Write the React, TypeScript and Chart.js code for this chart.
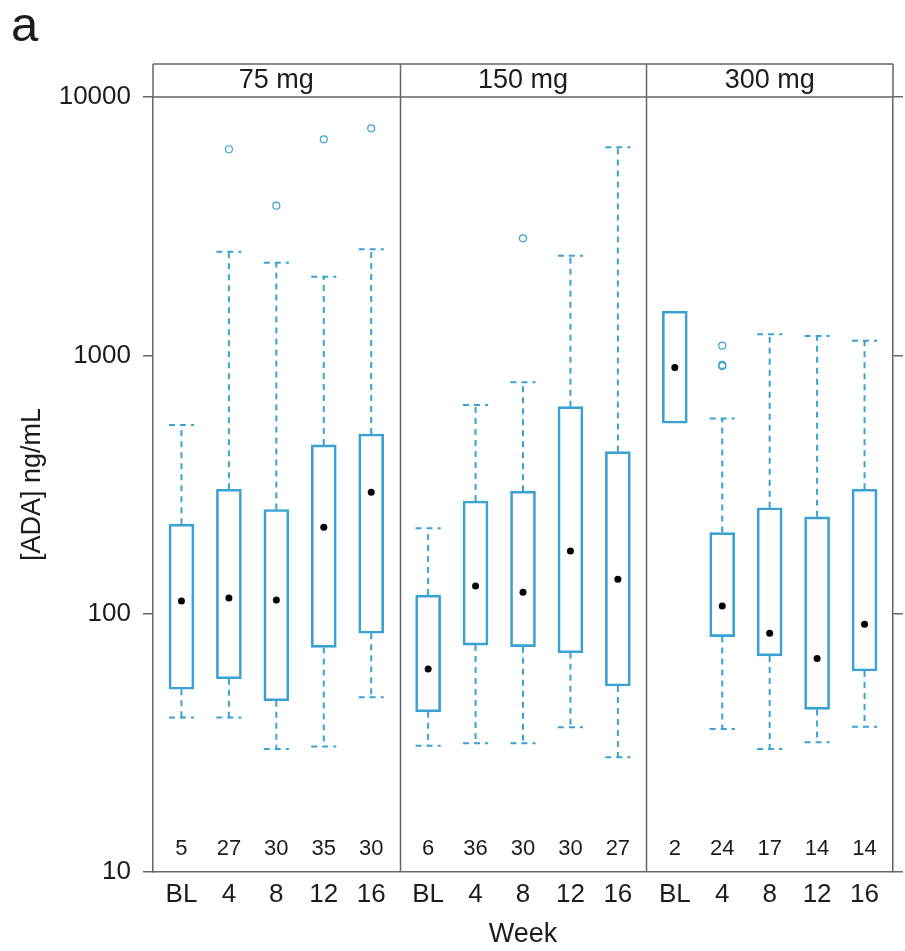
import React, { useEffect, useRef } from 'react';
import { Chart, registerables } from 'chart.js';

Chart.register(...registerables);

// ---- data ----
const doses = ['75 mg', '150 mg', '300 mg'];
const weeks = ['BL', '4', '8', '12', '16'];
const yTickValues = [10, 100, 1000, 10000];

// 15 groups: 3 doses x 5 weeks
const whiskerLow = [39.6, 39.6, 29.9, 30.6, 47.5, 30.8, 31.5, 31.5, 36.3, 27.8, null, 35.8, 29.9, 31.8, 36.5];
const lowerQuartile = [51, 56, 46, 74, 84, 41.7, 75.6, 74.5, 70.6, 52.5, 546, 81.5, 68.6, 42.6, 60];
const medianValues = [112, 115, 113, 216, 295, 61, 128, 121, 175, 136, 898, 107, 84, 67, 91];
const upperQuartile = [222, 303, 253, 450, 496, 118, 273, 298, 633, 424, 1484, 206, 257, 237, 303];
const whiskerHigh = [538, 2519, 2284, 2016, 2573, 214, 642, 786, 2432, 6387, null, 570, 1206, 1188, 1139];
const sampleSizes = [5, 27, 30, 35, 30, 6, 36, 30, 30, 27, 2, 24, 17, 14, 14];
const outlierGroup = [1, 2, 3, 4, 7, 11, 11, 11];
const outlierValues = [6277, 3796, 6857, 7566, 2838, 1090, 909, 918];

// ---- layout helpers ----
const PANEL_SPAN = 5.2;
const groupX = (g: number) => Math.floor(g / 5) * PANEL_SPAN + 0.6 + (g % 5);
const CAP_HALF = 0.265;
const BLUE = '#3aa2d2';
const FRAME = '#666666';
const TEXT = '#1c1c1c';
const FONT = "'Liberation Sans', Arial, Helvetica, sans-serif";

const panelPlugin = {
  id: 'panelPlugin',
  afterDraw(chart: any) {
    const { ctx, chartArea, scales } = chart;
    const xs = scales.x;
    const stripH = 33;
    const stripTop = chartArea.top - stripH;
    ctx.save();
    ctx.strokeStyle = FRAME;
    ctx.lineWidth = 1.5;
    ctx.beginPath();
    ctx.moveTo(chartArea.left, stripTop);
    ctx.lineTo(chartArea.right, stripTop);
    ctx.moveTo(chartArea.left, chartArea.top);
    ctx.lineTo(chartArea.right, chartArea.top);
    ctx.moveTo(chartArea.left, stripTop);
    ctx.lineTo(chartArea.left, chartArea.top);
    ctx.moveTo(chartArea.right, stripTop);
    ctx.lineTo(chartArea.right, chartArea.top);
    [PANEL_SPAN, PANEL_SPAN * 2].forEach((v) => {
      const px = Math.round(xs.getPixelForValue(v)) + 0.5;
      ctx.moveTo(px, stripTop);
      ctx.lineTo(px, chartArea.bottom);
    });
    ctx.stroke();

    ctx.fillStyle = TEXT;
    ctx.textAlign = 'center';
    ctx.textBaseline = 'alphabetic';
    ctx.font = `27px ${FONT}`;
    doses.forEach((d, i) => {
      const cx = xs.getPixelForValue(i * PANEL_SPAN + PANEL_SPAN / 2);
      ctx.fillText(d, cx, chartArea.top - 9);
    });

    ctx.font = `22px ${FONT}`;
    ctx.textBaseline = 'middle';
    sampleSizes.forEach((n, g) => {
      ctx.fillText(String(n), xs.getPixelForValue(groupX(g)), chartArea.bottom - 23);
    });

    ctx.font = `49px ${FONT}`;
    ctx.textAlign = 'left';
    ctx.textBaseline = 'alphabetic';
    ctx.fillText('a', 11, 41);
    ctx.restore();
  },
};

export default function App() {
  const ref = useRef<HTMLCanvasElement | null>(null);

  useEffect(() => {
    if (!ref.current) return;

    const boxes = medianValues.map((_, g) => ({ x: groupX(g), y: [lowerQuartile[g], upperQuartile[g]] }));
    const medians = medianValues.map((v, g) => ({ x: groupX(g), y: v }));
    const outliers = outlierValues.map((v, i) => ({ x: groupX(outlierGroup[i]), y: v }));
    const whiskers: any[] = [];
    const caps: any[] = [];
    medianValues.forEach((_, g) => {
      const x = groupX(g);
      const hi = whiskerHigh[g];
      const lo = whiskerLow[g];
      if (hi != null) {
        whiskers.push({ x, y: upperQuartile[g] }, { x, y: hi }, { x, y: null });
        caps.push({ x: x - CAP_HALF, y: hi }, { x: x + CAP_HALF, y: hi }, { x, y: null });
      }
      if (lo != null) {
        whiskers.push({ x, y: lowerQuartile[g] }, { x, y: lo }, { x, y: null });
        caps.push({ x: x - CAP_HALF, y: lo }, { x: x + CAP_HALF, y: lo }, { x, y: null });
      }
    });

    const tickPositions = medianValues.map((_, g) => groupX(g));

    const chart = new Chart(ref.current, {
      type: 'bar',
      data: {
        datasets: [
          {
            type: 'scatter',
            data: medians,
            pointRadius: 3.5,
            pointBackgroundColor: '#000',
            pointBorderColor: '#000',
            pointBorderWidth: 0,
            order: 0,
          } as any,
          {
            type: 'scatter',
            data: outliers,
            pointRadius: 3.5,
            pointBackgroundColor: 'rgba(0,0,0,0)',
            pointBorderColor: BLUE,
            pointBorderWidth: 1.2,
            order: 1,
          } as any,
          {
            type: 'bar',
            data: boxes,
            backgroundColor: 'rgba(255,255,255,0)',
            borderColor: BLUE,
            borderWidth: 2,
            borderSkipped: false,
            barThickness: 25,
            order: 2,
          } as any,
          {
            type: 'line',
            data: whiskers,
            borderColor: BLUE,
            borderWidth: 2,
            borderDash: [6, 5],
            pointRadius: 0,
            spanGaps: false,
            fill: false,
            order: 3,
          } as any,
          {
            type: 'line',
            data: caps,
            borderColor: BLUE,
            borderWidth: 2,
            borderDash: [6, 5],
            pointRadius: 0,
            spanGaps: false,
            fill: false,
            order: 3,
          } as any,
        ],
      },
      options: {
        responsive: false,
        animation: false,
        events: [],
        layout: { padding: { top: 97, left: 0, right: 0, bottom: 0 } },
        plugins: { legend: { display: false }, tooltip: { enabled: false } },
        scales: {
          x: {
            type: 'linear',
            min: 0,
            max: PANEL_SPAN * 3,
            offset: false,
            grid: { display: false, drawTicks: false },
            border: { display: true, color: FRAME, width: 1.5 },
            afterBuildTicks: (s: any) => {
              s.ticks = tickPositions.map((v) => ({ value: v }));
            },
            ticks: {
              autoSkip: false,
              maxRotation: 0,
              minRotation: 0,
              padding: 7,
              color: TEXT,
              font: { family: FONT, size: 26 },
              callback: (_v: any, i: number) => weeks[i % 5],
            },
            title: {
              display: true,
              text: 'Week',
              color: TEXT,
              font: { family: FONT, size: 27 },
              padding: { top: 0, bottom: 0 },
            },
            afterFit: (s: any) => {
              s.height = 79;
            },
          },
          y: {
            type: 'logarithmic',
            position: 'left',
            min: 10,
            max: 10000,
            afterBuildTicks: (s: any) => {
              s.ticks = yTickValues.map((v) => ({ value: v }));
            },
            grid: { drawOnChartArea: false, drawTicks: true, tickLength: 10, color: FRAME, lineWidth: 1.5 },
            border: { display: true, color: FRAME, width: 1.5 },
            ticks: {
              padding: 12,
              color: TEXT,
              font: { family: FONT, size: 26 },
              callback: (v: any) => String(v),
            },
            title: {
              display: true,
              text: '[ADA] ng/mL',
              color: TEXT,
              font: { family: FONT, size: 27 },
              padding: { top: 16, bottom: 0 },
            },
            afterFit: (s: any) => {
              s.width = 153;
            },
          },
          y2: {
            type: 'logarithmic',
            position: 'right',
            min: 10,
            max: 10000,
            afterBuildTicks: (s: any) => {
              s.ticks = yTickValues.map((v) => ({ value: v }));
            },
            grid: { drawOnChartArea: false, drawTicks: true, tickLength: 10, color: FRAME, lineWidth: 1.5 },
            border: { display: true, color: FRAME, width: 1.5 },
            ticks: { padding: 0, callback: () => '' },
            afterFit: (s: any) => {
              s.width = 12;
            },
          },
        },
      } as any,
      plugins: [panelPlugin],
    });

    return () => chart.destroy();
  }, []);

  return (
    <div style={{ position: 'absolute', left: 0, top: 0, width: 905, height: 951, background: '#fff' }}>
      <canvas ref={ref} width={905} height={951} />
    </div>
  );
}
